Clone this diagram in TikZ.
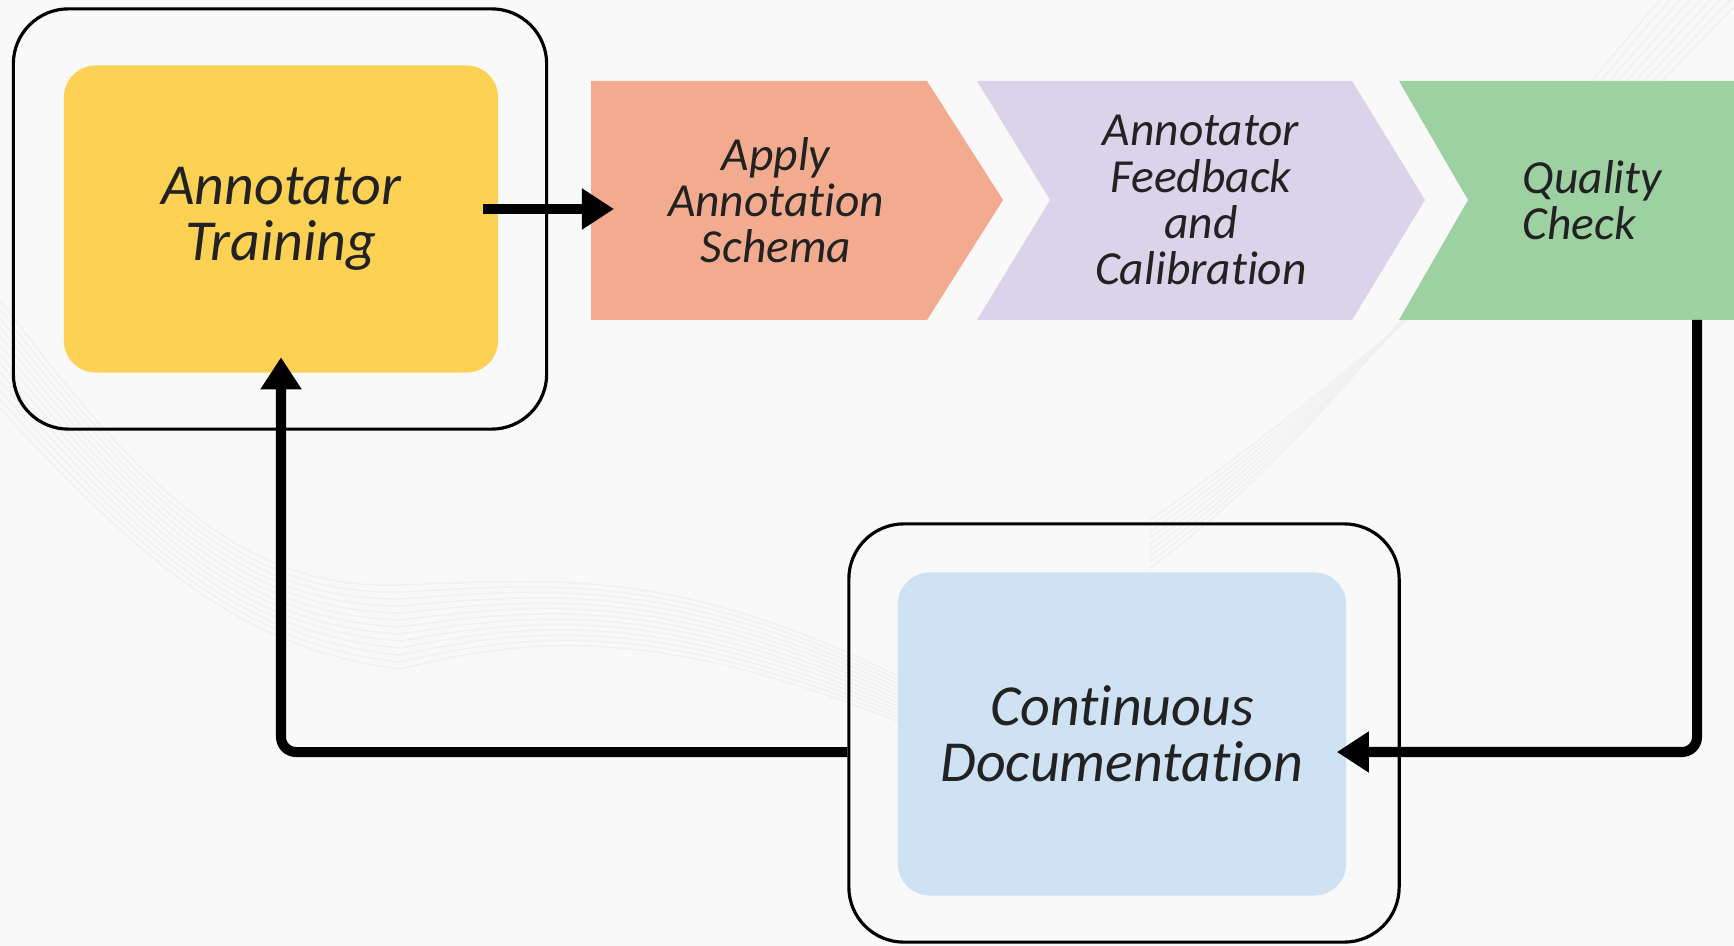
\documentclass[tikz,border=0pt]{standalone}
\usepackage{fontspec}
\setmainfont{Carlito}[Ligatures=NoCommon]
\usetikzlibrary{arrows.meta, positioning}
\definecolor{fond}{RGB}{249,249,249}
\definecolor{vague}{RGB}{241,241,241}
\definecolor{jaune}{RGB}{253,209,84}
\definecolor{saumon}{RGB}{243,171,143}
\definecolor{lavande}{RGB}{218,211,234}
\definecolor{vert}{RGB}{158,209,161}
\definecolor{bleu}{RGB}{207,226,243}
\definecolor{texte}{RGB}{34,34,34}

\begin{document}
\begin{tikzpicture}[x=0.01cm, y=-0.01cm,
    cadre/.style={draw=black, line width=0.9pt, rounded corners=0.55cm, inner sep=0pt},
    bloc/.style={rounded corners=0.32cm, inner sep=0pt, text=texte, align=center, font=\itshape\fontsize{16.5}{15.9}\selectfont},
    etiq/.style={inner sep=0pt, text=texte, align=center, font=\itshape\fontsize{13.5}{13.1}\selectfont},
    fleche/.style={line width=2.85pt, rounded corners=0.15cm, -{Triangle[length=0.32cm, width=0.39cm]}}]
        % Fond
        \fill[fond] (0,0) rectangle (1734,946);
        \useasboundingbox (0,0) rectangle (1734,946);
        \foreach \k in {0,...,12}
            \draw[vague, line width=0.4pt] (0,300+\k*9) .. controls (150,500+\k*6) and (250,590+\k*5) .. (400,585+\k*7)
                .. controls (560,580+\k*4) and (700,560+\k*6) .. (980,720+\k*3);
        \foreach \k in {0,...,8}
            \draw[vague, line width=0.4pt] (1740-\k*10,0) .. controls (1550-\k*8,200) and (1350,380+\k*5) .. (1150,520+\k*6);

        % Cadres
        \node[cadre, minimum width=5.33cm, minimum height=4.20cm] (trainframe) at (280,219) {};
        \node[cadre, minimum width=5.50cm, minimum height=4.18cm] (docframe) at (1124,733) {};

        % Blocs arrondis
        \node[bloc, fill=jaune, minimum width=4.34cm, minimum height=3.07cm] (train) at (281,219) {Annotator\\Training};
        \node[bloc, fill=bleu, minimum width=4.48cm, minimum height=3.23cm] (doc) at (1122,734) {Continuous\\Documentation};

        % Chevrons
        \fill[saumon] (591,81) -- (927,81) -- (1003,200) -- (927,320) -- (591,320) -- cycle;
        \fill[lavande] (977,81) -- (1352,81) -- (1425,200) -- (1352,320) -- (977,320) -- (1050,200) -- cycle;
        \fill[vert] (1399,81) -- (1734,81) -- (1734,320) -- (1399,320) -- (1468,200) -- cycle;
        \node[etiq] (apply) at (776,200) {Apply\\Annotation\\Schema};
        \node[etiq] (feedback) at (1201,200) {Annotator\\Feedback\\and\\Calibration};
        \node[etiq, align=left, anchor=west] (quality) at (1522,200) {Quality\\Check};

        % Fleches
        \coordinate (qbas) at (1697,320);
        \draw[fleche] ([shift={(-16,-10)}]train.east) -- ([shift={(23,9)}]apply.west -| 591,0);
        \draw[fleche] (qbas) |- ([shift={(-10,18)}]doc.east);
        \draw[fleche] ([yshift=-0.19cm]docframe.west) -| ([yshift=0.16cm]train.south);
    \end{tikzpicture}
\end{document}
